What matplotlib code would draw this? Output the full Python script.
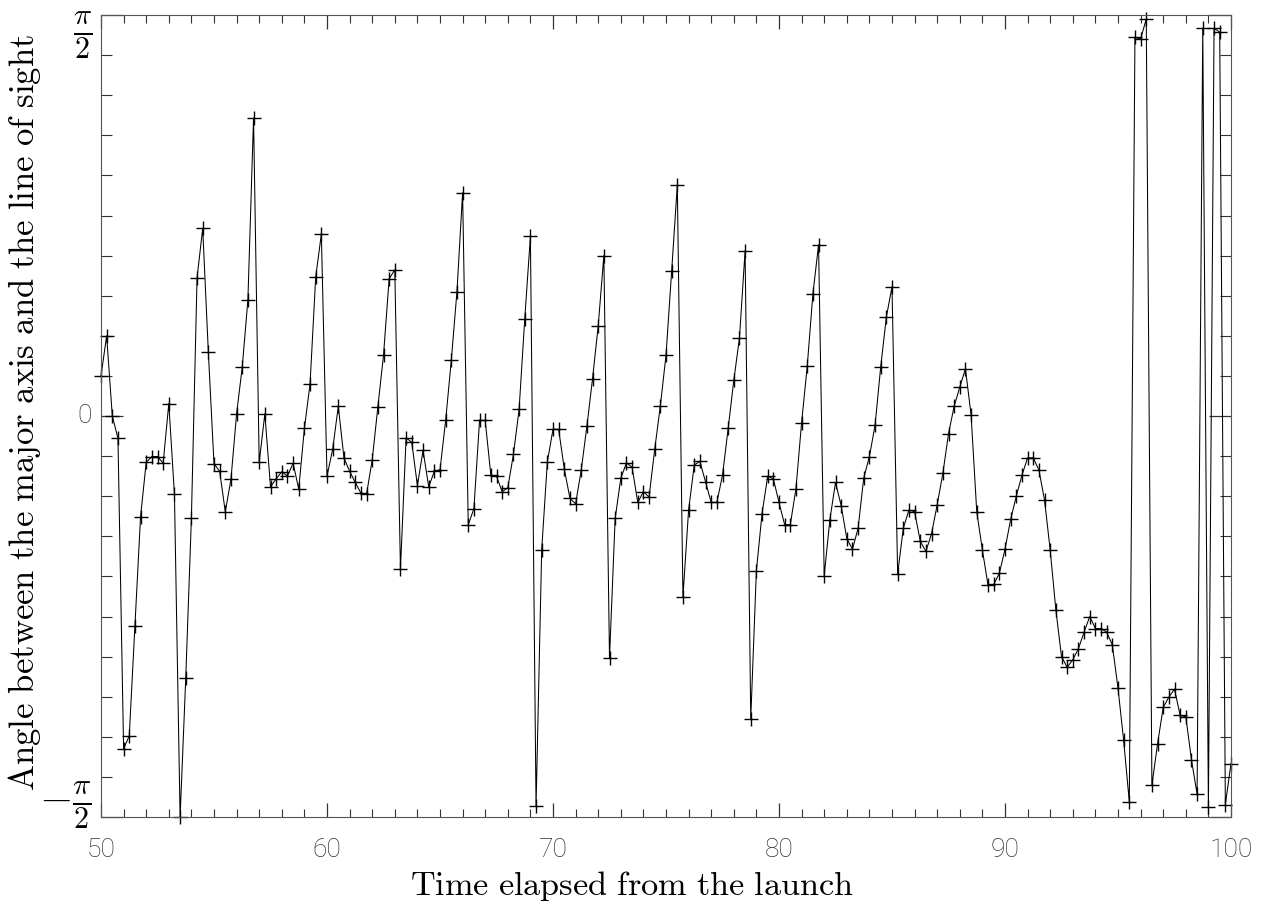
import numpy as np
import matplotlib.pyplot as plt
from matplotlib.ticker import MultipleLocator, FixedLocator
import matplotlib.transforms as mtrans

plt.rcParams['mathtext.fontset'] = 'cm'

# sampling of the time axis
t_start = 50.0
t_step = 0.25

# angle in degrees, one value per sample (50.0 .. 100.0)
angle_deg = [
    9.0, 18.0, 0.0, -5.0, -74.7, -71.8, -47.1, -22.6,          # 50
    -10.4, -9.1, -9.1, -10.6, 2.8, -17.6, -90.0, -58.8,        # 52
    -22.9, 31.0, 42.1, 14.3, -10.7, -12.4, -21.5, -14.2,       # 54
    0.5, 11.0, 26.1, 66.9, -10.4, 0.5, -15.9, -14.1,           # 56
    -12.5, -13.5, -10.6, -16.4, -2.8, 7.2, 31.2, 40.8,         # 58
    -13.5, -7.5, 2.2, -9.4, -12.4, -14.9, -17.3, -17.5,        # 60
    -9.9, 2.0, 13.6, 30.8, 32.8, -34.4, -4.9, -5.9,            # 62
    -15.6, -7.7, -15.9, -12.4, -12.1, -1.0, 12.5, 27.9,        # 64
    50.1, -24.4, -20.8, -1.0, -1.0, -13.3, -13.5, -17.0,       # 66
    -16.1, -8.6, 1.5, 21.8, 40.3, -87.6, -30.0, -10.3,         # 68
    -3.0, -3.0, -11.9, -18.5, -19.7, -12.1, -2.3, 8.4,         # 70
    20.2, 36.0, -54.3, -23.0, -14.0, -10.5, -11.5, -19.4,      # 72
    -17.0, -18.2, -7.5, 2.3, 13.6, 32.5, 51.8, -40.6,          # 74
    -21.1, -11.0, -10.2, -14.8, -19.4, -19.4, -13.3, -2.8,     # 76
    8.0, 17.5, 37.1, -68.0, -34.7, -21.9, -13.5, -14.1,        # 78
    -19.4, -24.4, -24.4, -16.3, -1.5, 11.2, 27.4, 38.4,        # 80
    -35.9, -23.3, -14.9, -20.1, -27.5, -29.9, -25.2, -13.9,    # 82
    -9.1, -2.1, 11.0, 22.2, 29.0, -35.4, -25.2, -21.1,         # 84
    -21.5, -28.1, -30.4, -26.4, -19.9, -12.9, -4.0, 2.2,       # 86
    6.5, 10.6, 0.2, -21.5, -30.1, -38.0, -37.8, -35.3,         # 88
    -29.9, -23.2, -18.0, -13.3, -9.4, -9.4, -12.1, -18.9,      # 90
    -30.1, -43.5, -54.0, -56.4, -54.7, -52.2, -48.5, -45.0,    # 92
    -47.7, -47.7, -48.5, -51.4, -61.1, -72.8, -86.6, 85.0,     # 94
    84.6, 89.1, -82.9, -73.6, -65.4, -63.1, -61.3, -67.2,      # 96
    -67.5, -77.1, -84.9, 87.0, -87.8, 87.0, 86.2, -87.2,       # 98
    -78.0,                                                      # 100
]

y_tick_vals = [-np.pi / 2, 0, np.pi / 2]
y_tick_text = [r'$-\frac{\pi}{\mathbf{2}}$', '0', r'$\frac{\pi}{\mathbf{2}}$']

time = t_start + t_step * np.arange(len(angle_deg))
angle = np.radians(angle_deg)

fig = plt.figure(figsize=(12.73, 9.06), dpi=100)
ax = fig.add_axes([101 / 1273, 1 - 817 / 906, 1130 / 1273, 802 / 906])

ax.plot(time, angle, color='black', lw=0.75, marker='+', ms=10, mew=1.0,
        clip_on=False)

ax.set_xlim(50, 100)
ax.set_ylim(-np.pi / 2, np.pi / 2)

ax.xaxis.set_major_locator(MultipleLocator(10))
ax.xaxis.set_minor_locator(MultipleLocator(1))
ax.yaxis.set_major_locator(FixedLocator(y_tick_vals))
ax.yaxis.set_minor_locator(MultipleLocator(np.pi / 20))
ax.set_yticklabels([])

ax.tick_params(which='both', direction='in', top=True, right=True,
               color='#333333')
ax.tick_params(axis='x', which='major', length=10, width=0.9, pad=15,
               labelsize=19, labelcolor='#333333')
ax.tick_params(axis='x', which='minor', length=6, width=0.8)
ax.tick_params(axis='y', which='major', length=16, width=0.9)
ax.tick_params(axis='y', which='minor', length=8, width=0.8)
for lab in ax.get_xticklabels():
    lab.set_fontfamily('Roboto')
    lab.set_fontweight('light')

for sp in ax.spines.values():
    sp.set_color('#555555')
    sp.set_linewidth(0.8)

# y labels drawn by hand: the fractions sit a bit inside the frame
ytrans = ax.get_yaxis_transform()
shift = {0: 12, 1: 0, 2: -20}
for i, (v, s) in enumerate(zip(y_tick_vals, y_tick_text)):
    off = mtrans.offset_copy(ytrans, fig=fig, x=-6.5, y=shift[i] * 0.72,
                             units='points')
    if s == '0':
        ax.text(0, v, s, transform=off, ha='right', va='center',
                fontsize=19, family='Roboto', weight='light',
                color='#333333')
    else:
        ax.text(0, v, s, transform=off, ha='right', va='center',
                fontsize=31, color='black')

fig.text(632 / 1273, 1 - 895 / 906,
         r'$\mathrm{Time\ elapsed\ from\ the\ launch}$',
         ha='center', va='baseline', fontsize=24.7)
fig.text(25 / 1273, 1 - 413 / 906,
         r'$\mathrm{Angle\ between\ the\ major\ axis\ and\ the\ line\ of\ sight}$',
         ha='center', va='center', rotation=90, fontsize=25.0)

fig.savefig('out.png', dpi=100)
